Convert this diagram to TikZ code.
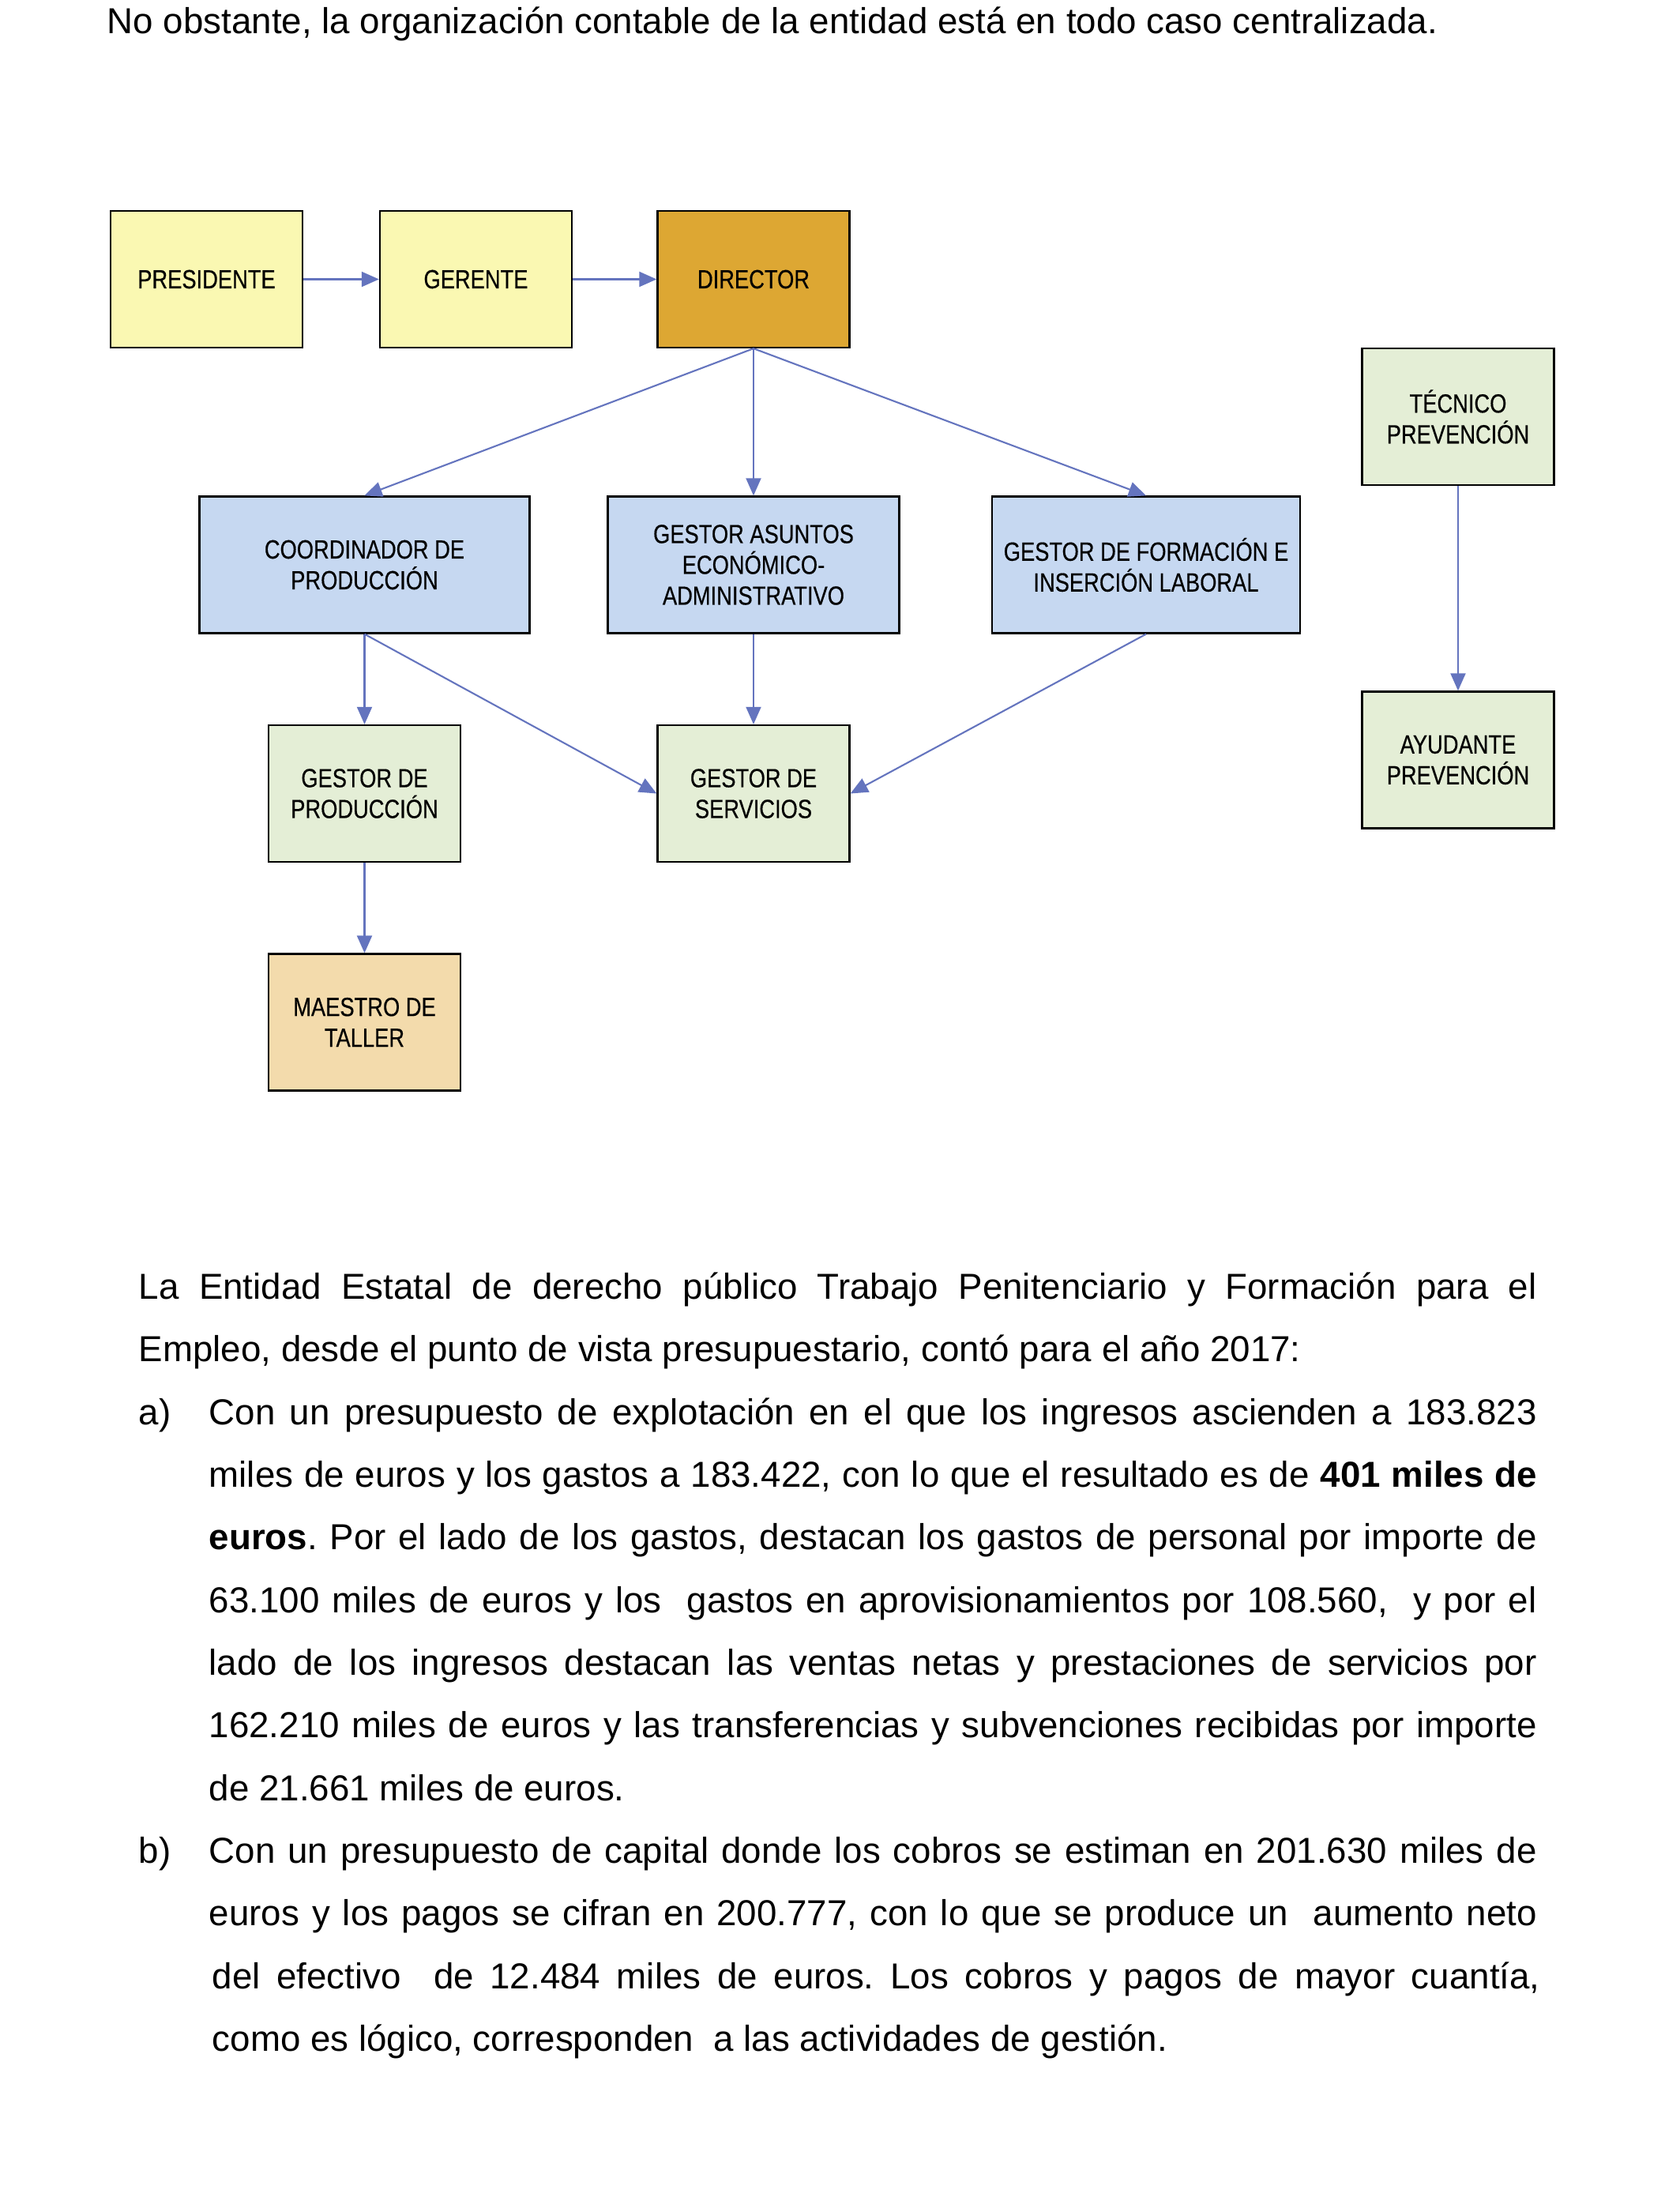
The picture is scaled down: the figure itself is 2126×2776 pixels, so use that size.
\documentclass[tikz,border=0pt]{standalone}
\usepackage{fontspec}
\setmainfont{Liberation Sans}
\newfontfamily\narrowfont[FakeStretch=0.82,FakeBold=0.35]{Liberation Sans}
\usetikzlibrary{arrows.meta}
\definecolor{cyellow}{HTML}{FAF8B2}
\definecolor{corange}{HTML}{DDA733}
\definecolor{cblue}{HTML}{C6D8F1}
\definecolor{cgreen}{HTML}{E4EED6}
\definecolor{ctan}{HTML}{F3DBAC}
\definecolor{carrow}{HTML}{6474BE}
\frenchspacing
\begin{document}
\begin{tikzpicture}[x=0.26258pt,y=-0.26258pt,
  box/.style={draw=black, line width=0.6pt, inner sep=0pt, align=center,
    font=\narrowfont\fontsize{8.74pt}{10.24pt}\selectfont, minimum height=45.43pt},
  wsmall/.style={minimum width=63.81pt},
  arr/.style={draw=carrow, line width=0.55pt, -{Triangle[length=5.8pt,width=5pt]}},
  txtline/.style={anchor=base west, inner sep=0pt, font=\fontsize{12pt}{20.8pt}\selectfont}
]
\useasboundingbox (0,0) rectangle (2126,2776);

% top line
\node[txtline] (t0) at (135,42) {No obstante, la organización contable de la entidad está en todo caso centralizada.};

% boxes
\node[box, wsmall, fill=cyellow] (pres) at (261.5,353.5) {PRESIDENTE};
\node[box, wsmall, fill=cyellow] (ger) at (602.5,353.5) {GERENTE};
\node[box, wsmall, fill=corange] (dir) at (954,353.5) {DIRECTOR};
\node[box, minimum width=109.76pt, fill=cblue] (coord) at (461.5,715) {COORDINADOR DE\\PRODUCCIÓN};
\node[box, minimum width=96.9pt, fill=cblue] (asun) at (954,715) {GESTOR ASUNTOS\\ECONÓMICO-\\ADMINISTRATIVO};
\node[box, minimum width=102.4pt, fill=cblue] (form) at (1451,715) {GESTOR DE FORMACIÓN E\\INSERCIÓN LABORAL};
\node[box, wsmall, fill=cgreen] (tec) at (1846,527.5) {TÉCNICO\\PREVENCIÓN};
\node[box, wsmall, fill=cgreen] (ayu) at (1846,962) {AYUDANTE\\PREVENCIÓN};
\node[box, wsmall, fill=cgreen] (gprod) at (461.5,1004.5) {GESTOR DE\\PRODUCCIÓN};
\node[box, wsmall, fill=cgreen] (gserv) at (954,1004.5) {GESTOR DE\\SERVICIOS};
\node[box, wsmall, fill=ctan] (maes) at (461.5,1294) {MAESTRO DE\\TALLER};

% connectors
\draw[arr] (pres) -- (ger);
\draw[arr] (ger) -- (dir);
\draw[arr] (dir.south) -- (coord.north);
\draw[arr] (dir.south) -- (asun.north);
\draw[arr] (dir.south) -- (form.north);
\draw[arr] (coord.south) -- (gprod.north);
\draw[arr] (coord.south) -- (gserv.west);
\draw[arr] (asun.south) -- (gserv.north);
\draw[arr] (form.south) -- (gserv.east);
\draw[arr] (gprod.south) -- (maes.north);
\draw[arr] (tec.south) -- (ayu.north);

% body text
\node[txtline] (l1) at (175,1644) {\makebox[464.77pt][s]{La Entidad Estatal de derecho público Trabajo Penitenciario y Formación para el}};
\node[txtline] (l2) at (175,1723) {Empleo, desde el punto de vista presupuestario, contó para el año 2017:};
\node[txtline] (la) at (175,1803) {a)};
\node[txtline] (l3) at (264,1803) {\makebox[441.4pt][s]{Con un presupuesto de explotación en el que los ingresos ascienden a 183.823}};
\node[txtline] (l4) at (264,1882) {\makebox[441.4pt][s]{miles de euros y los gastos a 183.422, con lo que el resultado es de \textbf{401 miles de}}};
\node[txtline] (l5) at (264,1961) {\makebox[441.4pt][s]{\textbf{euros}. Por el lado de los gastos, destacan los gastos de personal por importe de}};
\node[txtline] (l6) at (264,2041) {\makebox[441.4pt][s]{63.100 miles de euros y los \ gastos en aprovisionamientos por 108.560, \ y por el}};
\node[txtline] (l7) at (264,2120) {\makebox[441.4pt][s]{lado de los ingresos destacan las ventas netas y prestaciones de servicios por}};
\node[txtline] (l8) at (264,2199) {\makebox[441.4pt][s]{162.210 miles de euros y las transferencias y subvenciones recibidas por importe}};
\node[txtline] (l9) at (264,2279) {de 21.661 miles de euros.};
\node[txtline] (lb) at (175,2358) {b)};
\node[txtline] (l10) at (264,2358) {\makebox[441.4pt][s]{Con un presupuesto de capital donde los cobros se estiman en 201.630 miles de}};
\node[txtline] (l11) at (264,2437) {\makebox[441.4pt][s]{euros y los pagos se cifran en 200.777, con lo que se produce un \ aumento neto}};
\node[txtline] (l12) at (268,2517) {\makebox[441.4pt][s]{del efectivo \ de 12.484 miles de euros. Los cobros y pagos de mayor cuantía,}};
\node[txtline] (l13) at (268,2596) {como es lógico, corresponden \ a las actividades de gestión.};
\end{tikzpicture}
\end{document}
